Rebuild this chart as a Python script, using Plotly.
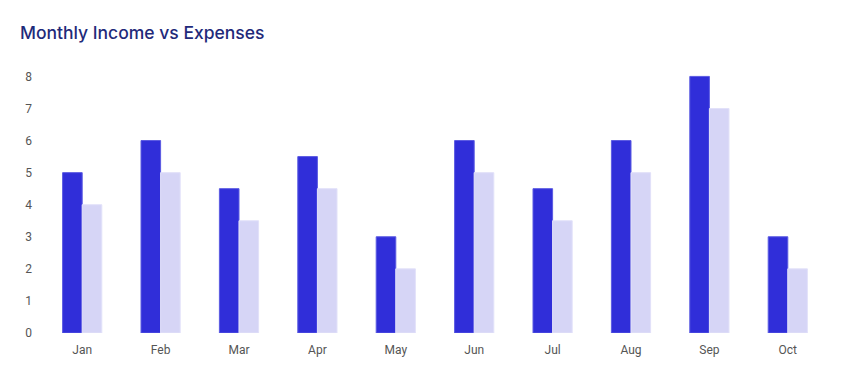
import plotly.graph_objects as go

months = ["Jan", "Feb", "Mar", "Apr", "May", "Jun", "Jul", "Aug", "Sep", "Oct"]
income = [5, 6, 4.5, 5.5, 3, 6, 4.5, 6, 8, 3]
expenses = [4, 5, 3.5, 4.5, 2, 5, 3.5, 5, 7, 2]
y_ticks = [0, 1, 2, 3, 4, 5, 6, 7, 8]

fig = go.Figure()
fig.add_trace(go.Bar(
    x=months, y=income, name="Income",
    marker=dict(color="#302ed9", line=dict(color="#5b5ae2", width=1)),
))
fig.add_trace(go.Bar(
    x=months, y=expenses, name="Expenses",
    marker=dict(color="#d6d5f6", line=dict(color="#e2e1f9", width=1)),
))

fig.update_layout(
    width=850, height=384,
    paper_bgcolor="white", plot_bgcolor="white",
    barmode="group", bargap=0.5, bargroupgap=0,
    showlegend=False,
    margin=dict(l=43, r=23, t=70, b=51, autoexpand=False),
    title=dict(
        text="Monthly Income vs Expenses",
        x=20 / 850, xref="container", xanchor="left",
        y=1 - 33 / 384, yref="container", yanchor="middle",
        pad=dict(l=0, r=0, t=0, b=0),
        font=dict(family="Inter, Lato, sans-serif", size=17.5, color="#1f2a7a", weight=500),
    ),
    font=dict(family="Roboto, sans-serif", size=12, color="#555555"),
    xaxis=dict(showgrid=False, zeroline=False, showline=False, ticks="",
               automargin=False, ticklabelstandoff=8,
               tickfont=dict(size=12, color="#555555")),
    yaxis=dict(range=[0, 8.2], tickvals=y_ticks, showgrid=False, zeroline=False,
               showline=False, ticks="", ticklabelstandoff=10, automargin=False,
               tickfont=dict(size=12, color="#555555")),
)

fig.write_html("out.html", config={"displayModeBar": False},
               post_script="document.body.style.margin='0';document.body.style.padding='0';")
